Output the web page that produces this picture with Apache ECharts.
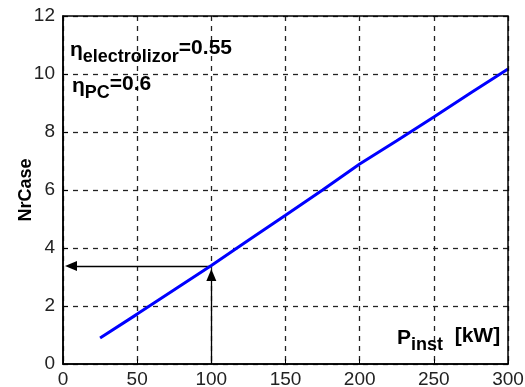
<!DOCTYPE html>
<html><head><meta charset="utf-8">
<script src="https://cdn.jsdelivr.net/npm/echarts@6/dist/echarts.min.js"></script>
<style>html,body{margin:0;padding:0;background:#fff}#c{width:525px;height:387px}</style>
</head><body><div id="c"></div>
<script>
const pInst = [25, 50, 75, 100, 125, 150, 175, 200, 225, 250, 275, 300];
const nrCase = [0.9, 1.72, 2.56, 3.4, 4.27, 5.13, 6.0, 6.9, 7.7, 8.52, 9.35, 10.17];
const xTicks = [0, 50, 100, 150, 200, 250, 300];
const yTicks = [0, 2, 4, 6, 8, 10, 12];
const readP = 100, readN = 3.38;
const arrowHeadX = 5.4, arrowHeadY = 3.07;

const chart = echarts.init(document.getElementById('c'));
const font = '"Liberation Sans", Arial, sans-serif';
const lineData = pInst.map((p, i) => [p, nrCase[i]]);
const richBase = {
  e: {fontSize: 21, fontWeight: 'bold', fontFamily: font, fill: '#000'},
  s: {fontSize: 18, fontWeight: 'bold', fontFamily: font, fill: '#000', padding: [13, 0, 0, 0]},
  v: {fontSize: 21, fontWeight: 'bold', fontFamily: font, fill: '#000', padding: [0, 0, 4, 0]}
};
chart.setOption({
  animation: false,
  grid: {left: 63, right: 17, top: 16, bottom: 23, containLabel: false, outerBoundsMode: 'none'},
  xAxis: {
    type: 'value', min: xTicks[0], max: xTicks[xTicks.length-1], interval: 50,
    axisLine: {show: true, onZero: false, lineStyle: {color: '#000', width: 1.5}},
    axisTick: {show: true, inside: true, length: 5, lineStyle: {color: '#000'}},
    axisLabel: {color: '#222', fontSize: 19, fontFamily: font, margin: 6},
    splitLine: {show: true, lineStyle: {color: '#222', type: [5, 5], width: 1.3}}
  },
  yAxis: {
    type: 'value', min: yTicks[0], max: yTicks[yTicks.length-1], interval: 2,
    name: 'NrCase', nameLocation: 'middle', nameGap: 28, nameMoveOverlap: false,
    nameTextStyle: {color: '#000', fontSize: 18, fontWeight: 'bold', fontFamily: font},
    axisLine: {show: true, onZero: false, lineStyle: {color: '#000', width: 1.5}},
    axisTick: {show: true, inside: true, length: 5, lineStyle: {color: '#000'}},
    axisLabel: {color: '#222', fontSize: 19, fontFamily: font, margin: 8},
    splitLine: {show: true, lineStyle: {color: '#222', type: [5, 5], width: 1.3}}
  },
  graphic: [
    {type: 'rect', shape: {x: 63, y: 16, width: 445, height: 348}, style: {fill: 'none', stroke: '#000', lineWidth: 1.5}, silent: true, z: 100},
    {type: 'text', left: 70, top: 38, z: 110, style: {rich: richBase, text: '{e|η}{s|electrolizor}{v|=0.55}'}},
    {type: 'text', left: 72, top: 74, z: 110, style: {rich: richBase, text: '{e|η}{s|PC}{v|=0.6}'}},
    {type: 'text', left: 397, top: 326, z: 110, style: {rich: richBase, text: '{e|P}{s|inst}{v|  [kW]}'}}
  ],
  series: [
    {
      type: 'line', data: lineData, showSymbol: false, smooth: false,
      lineStyle: {color: '#0000ff', width: 3}, z: 5,
      markLine: {
        silent: true, animation: false,
        lineStyle: {color: '#000', width: 1.3, type: 'solid'},
        symbolSize: [10, 12], label: {show: false},
        data: [
          [{coord: [readP, readN], symbol: 'none'}, {coord: [arrowHeadX, readN], symbol: 'triangle'}],
          [{coord: [readP, 0], symbol: 'none'}, {coord: [readP, arrowHeadY], symbol: 'triangle'}]
        ]
      }
    }
  ]
});
</script></body></html>
